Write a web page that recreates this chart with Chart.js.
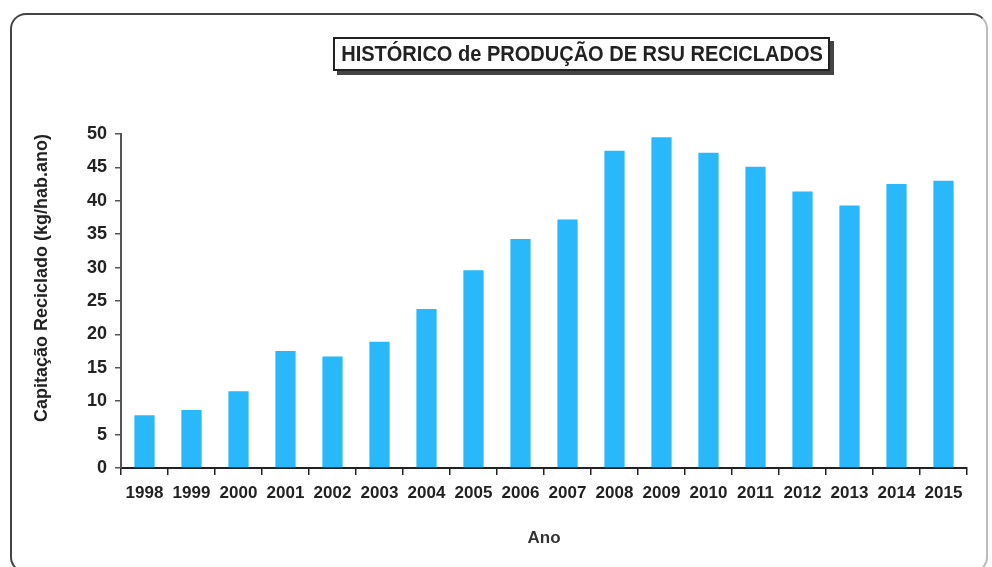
<!DOCTYPE html>
<html>
<head>
<meta charset="utf-8">
<script src="https://cdn.jsdelivr.net/npm/chart.js@4.4.0/dist/chart.umd.min.js"></script>
<style>
    html, body { margin: 0; padding: 0; background: #fff; }
    #wrap { position: relative; width: 992px; height: 567px; overflow: hidden; }
    #moldura {
        position: absolute; left: 10px; top: 13px; width: 978px; height: 560px;
        border: 2px solid #444; border-right-color: #bbb; border-bottom-color: #ccc;
        border-radius: 16px; box-sizing: border-box;
    }
    #titulo {
        position: absolute; left: 333px; top: 37px; width: 497px; height: 34px;
        border: 2px solid #222; box-sizing: border-box; background: #fff;
        box-shadow: 4px 4px 0 #444;
    }
    #titulo span {
        position: absolute; left: 50%; top: 0;
        line-height: 30px; white-space: nowrap;
        font-family: "Liberation Sans", Arial, sans-serif;
        font-weight: bold; font-size: 22px; color: #222;
        transform: translateX(-50%) scaleX(0.91);
    }
    canvas { position: absolute; left: 0; top: 0; }
</style>
</head>
<body>
<div id="wrap">
    <div id="moldura"></div>
    <canvas id="rsuChart" width="992" height="567"></canvas>
    <div id="titulo"><span>HISTÓRICO de PRODUÇÃO DE RSU RECICLADOS</span></div>
</div>
<script>
const anos = ["1998", "1999", "2000", "2001", "2002", "2003", "2004", "2005", "2006",
    "2007", "2008", "2009", "2010", "2011", "2012", "2013", "2014", "2015"];
const capitacao = [7.9, 8.7, 11.5, 17.5, 16.7, 18.9, 23.8, 29.6, 34.3,
    37.2, 47.5, 49.5, 47.2, 45.1, 41.4, 39.3, 42.5, 43.0];
const yMin = 0;
const yMax = 50;
const yPasso = 5;

const fonte = "'Liberation Sans', Arial, sans-serif";

const ctx = document.getElementById("rsuChart").getContext("2d");
new Chart(ctx, {
    type: "bar",
    data: {
        labels: anos,
        datasets: [{
            label: "Capitação Reciclado",
            data: capitacao,
            backgroundColor: "#29b8f9",
            borderWidth: 0,
            categoryPercentage: 1,
            barPercentage: 0.43
        }]
    },
    options: {
        responsive: false,
        animation: false,
        layout: { padding: { left: 20, right: 25, top: 134, bottom: 10 } },
        plugins: {
            legend: { display: false },
            tooltip: { enabled: false }
        },
        scales: {
            x: {
                afterFit: scale => { scale.height = 89; },
                border: { color: "#222", width: 2 },
                grid: {
                    drawOnChartArea: false,
                    color: "#222",
                    tickLength: 7,
                    lineWidth: 1.5
                },
                ticks: {
                    color: "#222",
                    padding: 8,
                    autoSkip: false,
                    maxRotation: 0,
                    font: { family: fonte, size: 17, weight: "bold" }
                },
                title: {
                    display: true,
                    text: "Ano",
                    color: "#333",
                    padding: { top: 0, bottom: 8 },
                    font: { family: fonte, size: 17, weight: "bold" }
                }
            },
            y: {
                min: yMin,
                max: yMax,
                afterFit: scale => { scale.width = 101; },
                border: { color: "#555", width: 2 },
                grid: {
                    drawOnChartArea: false,
                    color: "#555",
                    tickLength: 6,
                    lineWidth: 1.5
                },
                ticks: {
                    stepSize: yPasso,
                    color: "#222",
                    padding: 8,
                    font: { family: fonte, size: 18, weight: "bold" }
                },
                title: {
                    display: true,
                    text: "Capitação Reciclado (kg/hab.ano)",
                    color: "#222",
                    align: "end",
                    padding: { top: 11, bottom: 0 },
                    font: { family: fonte, size: 18, weight: "bold" }
                }
            }
        }
    }
});
</script>
</body>
</html>
